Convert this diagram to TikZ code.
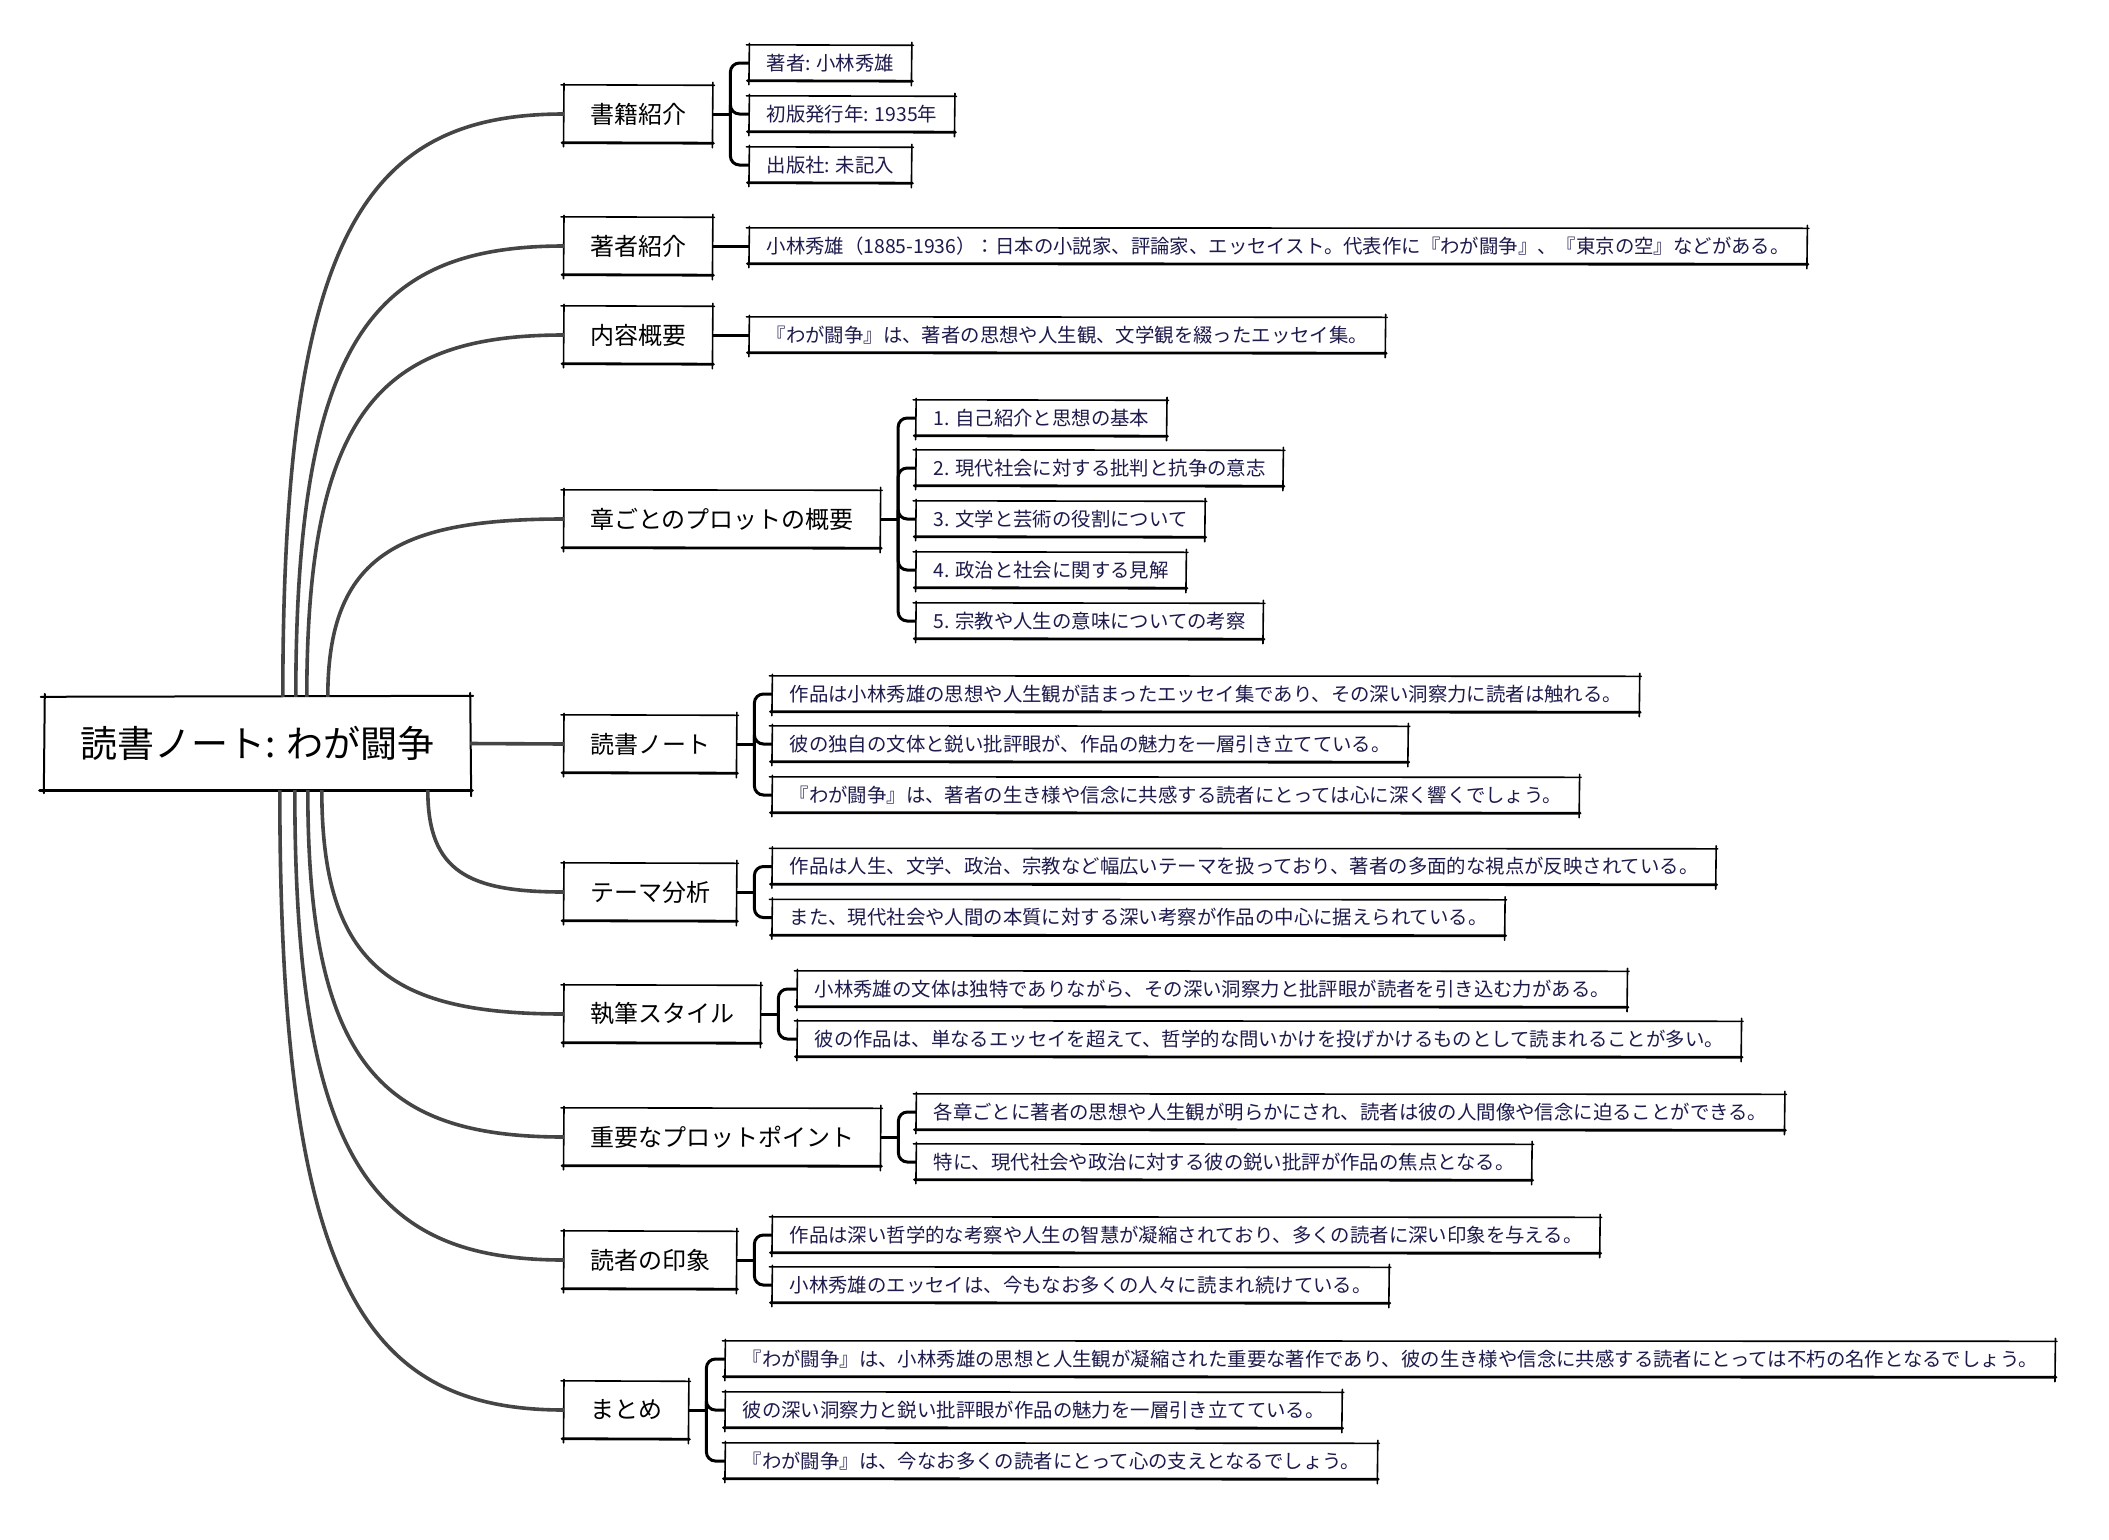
\documentclass[tikz,border=0pt]{standalone}
\usepackage{fontspec}
\setmainfont{Noto Sans CJK JP}
\usetikzlibrary{calc}
\definecolor{navy}{HTML}{1D1A4C}
\definecolor{conn}{HTML}{454545}
\tikzset{
 lvone/.style={anchor=west, inner xsep=26pt, inner ysep=0pt, minimum height=57pt, font=\fontsize{24}{28}\selectfont, text=black},
 lvtwo/.style={anchor=west, inner xsep=17pt, inner ysep=0pt, minimum height=35pt, font=\fontsize{19.4}{23}\selectfont, text=navy},
 mainc/.style={draw=conn, line width=3.6pt},
 brc/.style={draw=black, line width=3pt, rounded corners=9pt},
 skthin/.style={line width=1.6pt, line cap=round},
 skthick/.style={line width=2.8pt, line cap=round},
}
\newcommand\skbox[1]{%
 \draw[skthin] ([xshift=-3pt,yshift=0.5pt]#1.north west) -- ([xshift=2pt]#1.north east);
 \draw[skthin] ([yshift=2pt]#1.north west) -- ([yshift=-4pt,xshift=-0.5pt]#1.south west);
 \draw[skthick] ([xshift=-2pt]#1.south west) -- ([xshift=1pt,yshift=-0.5pt]#1.south east);
 \draw[skthin] ([yshift=3pt,xshift=0.5pt]#1.north east) -- ([yshift=-5pt]#1.south east);
}
\newcommand\brk[2]{%
 \coordinate (#1sp) at ([xshift=18pt]#1.east);
 \draw[brc] (#1.east) -- (#1sp);
 \foreach \cc in {#2} {\draw[brc] (#1sp) |- (\cc.west);}
}
\begin{document}
\begin{tikzpicture}[x=1pt,y=-1pt]
\useasboundingbox (0,0) rectangle (2109,1539);
\fill[white] (0,0) rectangle (2109,1539);

% root
\node[minimum width=425pt, minimum height=93pt, inner sep=0pt, font=\fontsize{37}{44}\selectfont] (root) at (257.5,743.5) {読書ノート: わが闘争};
\draw[line width=2pt, line cap=round] ([xshift=-4pt]root.north west) -- ([xshift=3pt,yshift=1pt]root.north east);
\draw[line width=2pt, line cap=round] ([yshift=3pt]root.north west) -- ([yshift=-3pt,xshift=-1pt]root.south west);
\draw[line width=3.4pt, line cap=round] ([xshift=-5pt]root.south west) -- ([xshift=2pt]root.south east);
\draw[line width=2pt, line cap=round] ([yshift=4pt]root.north east) -- ([yshift=-6pt,xshift=1pt]root.south east);

% level 1
\node[lvone] (b1) at (564,114) {書籍紹介};
\node[lvone] (b2) at (564,246) {著者紹介};
\node[lvone] (b3) at (564,335) {内容概要};
\node[lvone] (b4) at (564,519) {章ごとのプロットの概要};
\node[lvone] (b5) at (564,744) {読書ノート};
\node[lvone] (b6) at (564,892) {テーマ分析};
\node[lvone] (b7) at (564,1014) {執筆スタイル};
\node[lvone] (b8) at (564,1137) {重要なプロットポイント};
\node[lvone] (b9) at (564,1260) {読者の印象};
\node[lvone] (b10) at (564,1410) {まとめ};
\foreach \n in {b1,b2,b3,b4,b5,b6,b7,b8,b9,b10} {\skbox{\n}}

% level 2
\node[lvtwo] (c11) at ($(b1.east)+(37,-51)$) {著者: 小林秀雄};
\node[lvtwo] (c12) at ($(b1.east)+(37,0)$) {初版発行年: 1935年};
\node[lvtwo] (c13) at ($(b1.east)+(37,51)$) {出版社: 未記入};

\node[lvtwo] (c21) at ($(b2.east)+(37,0)$) {小林秀雄（1885-1936）：日本の小説家、評論家、エッセイスト。代表作に『わが闘争』、『東京の空』などがある。};

\node[lvtwo] (c31) at ($(b3.east)+(37,0)$) {『わが闘争』は、著者の思想や人生観、文学観を綴ったエッセイ集。};

\node[lvtwo] (c41) at ($(b4.east)+(36,-101)$) {1. 自己紹介と思想の基本};
\node[lvtwo] (c42) at ($(b4.east)+(36,-51)$) {2. 現代社会に対する批判と抗争の意志};
\node[lvtwo] (c43) at ($(b4.east)+(36,0)$) {3. 文学と芸術の役割について};
\node[lvtwo] (c44) at ($(b4.east)+(36,51)$) {4. 政治と社会に関する見解};
\node[lvtwo] (c45) at ($(b4.east)+(36,102)$) {5. 宗教や人生の意味についての考察};

\node[lvtwo] (c51) at ($(b5.east)+(36,-50)$) {作品は小林秀雄の思想や人生観が詰まったエッセイ集であり、その深い洞察力に読者は触れる。};
\node[lvtwo] (c52) at ($(b5.east)+(36,0)$) {彼の独自の文体と鋭い批評眼が、作品の魅力を一層引き立てている。};
\node[lvtwo] (c53) at ($(b5.east)+(36,51)$) {『わが闘争』は、著者の生き様や信念に共感する読者にとっては心に深く響くでしょう。};

\node[lvtwo] (c61) at ($(b6.east)+(36,-25.5)$) {作品は人生、文学、政治、宗教など幅広いテーマを扱っており、著者の多面的な視点が反映されている。};
\node[lvtwo] (c62) at ($(b6.east)+(36,25.5)$) {また、現代社会や人間の本質に対する深い考察が作品の中心に据えられている。};

\node[lvtwo] (c71) at ($(b7.east)+(37,-25)$) {小林秀雄の文体は独特でありながら、その深い洞察力と批評眼が読者を引き込む力がある。};
\node[lvtwo] (c72) at ($(b7.east)+(37,25)$) {彼の作品は、単なるエッセイを超えて、哲学的な問いかけを投げかけるものとして読まれることが多い。};

\node[lvtwo] (c81) at ($(b8.east)+(36,-25)$) {各章ごとに著者の思想や人生観が明らかにされ、読者は彼の人間像や信念に迫ることができる。};
\node[lvtwo] (c82) at ($(b8.east)+(36,25)$) {特に、現代社会や政治に対する彼の鋭い批評が作品の焦点となる。};

\node[lvtwo] (c91) at ($(b9.east)+(36,-25)$) {作品は深い哲学的な考察や人生の智慧が凝縮されており、多くの読者に深い印象を与える。};
\node[lvtwo] (c92) at ($(b9.east)+(36,25)$) {小林秀雄のエッセイは、今もなお多くの人々に読まれ続けている。};

\node[lvtwo] (c101) at ($(b10.east)+(37,-51)$) {『わが闘争』は、小林秀雄の思想と人生観が凝縮された重要な著作であり、彼の生き様や信念に共感する読者にとっては不朽の名作となるでしょう。};
\node[lvtwo] (c102) at ($(b10.east)+(37,0)$) {彼の深い洞察力と鋭い批評眼が作品の魅力を一層引き立てている。};
\node[lvtwo] (c103) at ($(b10.east)+(37,51)$) {『わが闘争』は、今なお多くの読者にとって心の支えとなるでしょう。};

\foreach \n in {c11,c12,c13,c21,c31,c41,c42,c43,c44,c45,c51,c52,c53,c61,c62,c71,c72,c81,c82,c91,c92,c101,c102,c103} {\skbox{\n}}

% root connectors
\draw[mainc] ([xshift=238pt]root.north west) .. controls +(0,-466) and +(-197,0) .. (b1.west);
\draw[mainc] ([xshift=251pt]root.north west) .. controls +(0,-361) and +(-188,0) .. (b2.west);
\draw[mainc] ([xshift=262pt]root.north west) .. controls +(0,-290) and +(-180,0) .. (b3.west);
\draw[mainc] ([xshift=283pt]root.north west) .. controls +(0,-142) and +(-165,0) .. (b4.west);
\draw[mainc] (root.east) -- (b5.west);
\draw[mainc] ([xshift=383pt]root.south west) .. controls +(0,82) and +(-95,0) .. (b6.west);
\draw[mainc] ([xshift=277pt]root.south west) .. controls +(0,179) and +(-169,0) .. (b7.west);
\draw[mainc] ([xshift=263pt]root.south west) .. controls +(0,278) and +(-179,0) .. (b8.west);
\draw[mainc] ([xshift=250pt]root.south west) .. controls +(0,376) and +(-188,0) .. (b9.west);
\draw[mainc] ([xshift=235pt]root.south west) .. controls +(0,496) and +(-199,0) .. (b10.west);

% brackets
\brk{b1}{c11,c12,c13}
\draw[brc] (b2.east) -- (c21.west);
\draw[brc] (b3.east) -- (c31.west);
\brk{b4}{c41,c42,c43,c44,c45}
\brk{b5}{c51,c52,c53}
\brk{b6}{c61,c62}
\brk{b7}{c71,c72}
\brk{b8}{c81,c82}
\brk{b9}{c91,c92}
\brk{b10}{c101,c102,c103}
\end{tikzpicture}
\end{document}
